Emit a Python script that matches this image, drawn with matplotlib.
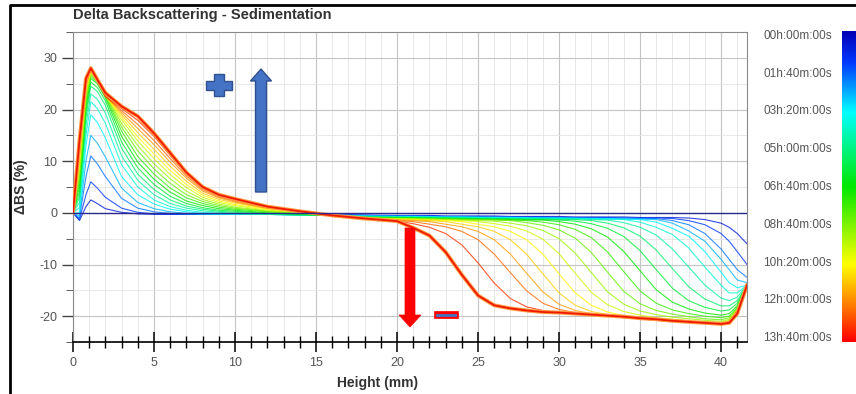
"""Delta backscattering (sedimentation) profiles, rainbow-coloured by scan time."""
import numpy as np
import matplotlib
matplotlib.use("Agg")
import matplotlib.pyplot as plt
from matplotlib.colors import LinearSegmentedColormap
from matplotlib.patches import FancyArrow, Polygon, Rectangle
from matplotlib.lines import Line2D
from matplotlib.ticker import MultipleLocator

W, H = 856, 394

# --------------------------------------------------------------------------- #
# DATA
# --------------------------------------------------------------------------- #
HEIGHT_LEFT = [0.0, 0.4, 0.8, 1.1, 1.5, 2.0, 3.0, 4.0, 5.0, 6.0, 7.0, 8.0, 9.0,
               10.0, 12.0, 14.0, 16.0]
HEIGHT_RIGHT = [18.0, 20.0, 21.0, 22.0, 23.0, 24.0, 25.0, 26.0, 27.0, 28.0, 29.0,
                30.0, 31.0, 32.0, 33.0, 34.0, 35.0, 36.0, 37.0, 38.0, 39.0, 40.0,
                40.5, 41.0, 41.6]

# delta-BS (%) per scan, oldest first: peak zone (bottom of the cell)
DBS_LEFT = [
    [0, 0, 0, 0, 0, 0, 0, 0, 0, 0, 0, 0, 0, 0, 0, 0, 0],
    [0, -1.5, 1.2, 2.5, 1.8, 0.8, 0.1, -0.2, -0.3, -0.3, -0.3, -0.3, -0.3, -0.3, -0.3, -0.3, -0.3],
    [0, -1.3, 3.5, 6, 4.8, 3, 0.9, 0.1, -0.2, -0.3, -0.3, -0.3, -0.3, -0.3, -0.3, -0.3, -0.4],
    [0, -1, 7, 11, 9.5, 7, 2.8, 0.9, 0.2, -0.1, -0.3, -0.3, -0.3, -0.3, -0.3, -0.4, -0.4],
    [0, -0.6, 10, 15, 13.5, 10.8, 4.8, 2, 0.8, 0.2, -0.1, -0.3, -0.3, -0.3, -0.3, -0.4, -0.4],
    [0, 0, 13, 19, 17.5, 14.5, 7, 3.5, 1.7, 0.7, 0.2, -0.1, -0.3, -0.3, -0.3, -0.4, -0.5],
    [0, 1, 15, 21.5, 20.2, 17.3, 9.3, 5, 2.5, 1.2, 0.5, 0.1, -0.1, -0.2, -0.3, -0.4, -0.5],
    [0, 2, 17, 23, 22, 19.3, 11, 6.3, 3.5, 1.8, 0.9, 0.4, 0.1, -0.1, -0.3, -0.4, -0.5],
    [0, 3, 18.5, 24.5, 23.5, 20.8, 12.5, 7.5, 4.5, 2.5, 1.3, 0.7, 0.3, 0.1, -0.2, -0.4, -0.5],
    [0, 4, 19.5, 25.3, 24.3, 21.7, 13.7, 8.7, 5.5, 3.2, 1.8, 1, 0.5, 0.3, -0.1, -0.3, -0.5],
    [0, 5, 20.5, 26, 25, 22.3, 14.8, 9.8, 6.5, 4, 2.3, 1.4, 0.8, 0.5, 0, -0.3, -0.5],
    [0, 6, 21.3, 26.4, 25.3, 22.6, 15.8, 10.9, 7.5, 4.8, 2.9, 1.8, 1.1, 0.7, 0.2, -0.2, -0.5],
    [0, 7, 22, 26.8, 25.6, 22.8, 16.6, 12, 8.5, 5.7, 3.5, 2.2, 1.4, 0.9, 0.3, -0.1, -0.5],
    [0, 8, 22.7, 27, 25.7, 22.9, 17.3, 13, 9.5, 6.6, 4.2, 2.6, 1.7, 1.1, 0.4, 0, -0.5],
    [0, 9, 23.3, 27.2, 25.8, 22.9, 18, 13.9, 10.5, 7.4, 4.9, 3, 2, 1.4, 0.5, 0.1, -0.5],
    [0, 10, 23.9, 27.4, 25.8, 22.9, 18.5, 14.7, 11.4, 8.2, 5.5, 3.4, 2.3, 1.6, 0.7, 0.1, -0.5],
    [0, 11, 24.4, 27.5, 25.8, 22.8, 19, 15.5, 12.3, 9, 6.1, 3.8, 2.6, 1.9, 0.8, 0.2, -0.5],
    [0, 11.8, 24.8, 27.6, 25.7, 22.7, 19.4, 16.3, 13.2, 9.8, 6.7, 4.2, 2.9, 2.1, 0.9, 0.2, -0.5],
    [0, 12.5, 25.2, 27.7, 25.6, 22.6, 19.8, 17.1, 14, 10.5, 7.1, 4.5, 3.1, 2.3, 1, 0.3, -0.5],
    [0, 13.3, 25.6, 27.8, 25.5, 22.5, 20.2, 17.9, 14.8, 11.1, 7.5, 4.8, 3.3, 2.5, 1.1, 0.3, -0.5],
    [0, 14, 26, 28, 25.8, 23.2, 20.6, 18.7, 15.4, 11.6, 7.8, 5, 3.5, 2.7, 1.2, 0.3, -0.5],
]

# delta-BS (%) per scan: clarification front (top of the cell)
DBS_RIGHT = [
    [0] * 25,
    [-0.4, -0.5, -0.5, -0.5, -0.6, -0.6, -0.6, -0.6, -0.7, -0.7, -0.7, -0.7, -0.8, -0.8, -0.8, -0.8, -0.9, -0.9, -0.9, -1.0, -1.3, -2.0, -2.8, -4.0, -6.0],
    [-0.5, -0.6, -0.6, -0.6, -0.7, -0.7, -0.7, -0.8, -0.8, -0.8, -0.8, -0.9, -0.9, -0.9, -0.9, -1.0, -1.0, -1.0, -1.1, -1.5, -2.3, -4.0, -5.5, -7.5, -10.0],
    [-0.5, -0.6, -0.6, -0.7, -0.7, -0.7, -0.8, -0.8, -0.8, -0.9, -0.9, -0.9, -1.0, -1.0, -1.0, -1.0, -1.1, -1.1, -1.5, -2.3, -4.0, -7.0, -9.0, -11.0, -12.5],
    [-0.6, -0.7, -0.7, -0.7, -0.8, -0.8, -0.8, -0.9, -0.9, -0.9, -1.0, -1.0, -1.0, -1.1, -1.1, -1.2, -1.2, -1.3, -2.0, -3.5, -5.5, -9.0, -11.0, -13.0, -13.5],
    [-0.6, -0.7, -0.7, -0.8, -0.8, -0.8, -0.9, -0.9, -0.9, -1.0, -1.0, -1.0, -1.1, -1.1, -1.2, -1.2, -1.3, -1.8, -3.0, -4.5, -7.5, -11.5, -13.5, -14.5, -14.0],
    [-0.7, -0.8, -0.8, -0.8, -0.9, -0.9, -0.9, -1.0, -1.0, -1.0, -1.1, -1.1, -1.1, -1.2, -1.2, -1.3, -1.8, -2.8, -4.2, -6.8, -10.5, -14.0, -15.5, -15.5, -14.0],
    [-0.7, -0.8, -0.8, -0.9, -0.9, -1.0, -1.0, -1.0, -1.1, -1.1, -1.1, -1.2, -1.2, -1.3, -1.4, -1.9, -2.8, -4.3, -7.0, -10.5, -14.0, -16.5, -17.0, -16.3, -14.0],
    [-0.8, -0.9, -0.9, -0.9, -1.0, -1.0, -1.1, -1.1, -1.1, -1.2, -1.2, -1.3, -1.3, -1.5, -2.0, -2.9, -4.5, -7.2, -10.8, -14.3, -16.7, -18.0, -18.0, -17.0, -14.0],
    [-0.8, -0.9, -1.0, -1.0, -1.0, -1.1, -1.1, -1.2, -1.2, -1.3, -1.3, -1.4, -1.6, -2.1, -3.0, -4.6, -7.3, -11.0, -14.6, -17.0, -18.3, -19.0, -18.8, -17.5, -14.0],
    [-0.9, -1.0, -1.0, -1.1, -1.1, -1.2, -1.2, -1.3, -1.3, -1.4, -1.4, -1.7, -2.2, -3.1, -4.7, -7.5, -11.2, -14.9, -17.3, -18.6, -19.4, -19.8, -19.5, -18.0, -14.0],
    [-0.9, -1.0, -1.1, -1.1, -1.2, -1.2, -1.3, -1.3, -1.4, -1.5, -1.8, -2.3, -3.2, -4.8, -7.6, -11.4, -15.1, -17.5, -18.8, -19.5, -20.0, -20.3, -20.0, -18.3, -14.0],
    [-1.0, -1.1, -1.1, -1.2, -1.2, -1.3, -1.3, -1.4, -1.5, -1.9, -2.4, -3.3, -4.9, -7.7, -11.5, -15.2, -17.6, -18.9, -19.6, -20.1, -20.5, -20.7, -20.3, -18.5, -14.0],
    [-1.0, -1.1, -1.2, -1.2, -1.3, -1.4, -1.5, -1.6, -2.0, -2.5, -3.4, -5.0, -7.8, -11.6, -15.3, -17.7, -19.0, -19.7, -20.2, -20.5, -20.8, -21.0, -20.6, -18.7, -14.0],
    [-1.0, -1.2, -1.2, -1.3, -1.4, -1.5, -1.7, -2.1, -2.6, -3.5, -5.1, -7.9, -11.7, -15.4, -17.8, -19.1, -19.8, -20.3, -20.6, -20.9, -21.1, -21.2, -20.8, -18.8, -14.0],
    [-1.1, -1.2, -1.3, -1.4, -1.5, -1.7, -2.2, -2.7, -3.6, -5.2, -8.0, -11.8, -15.5, -17.9, -19.2, -19.9, -20.4, -20.7, -21.0, -21.2, -21.3, -21.4, -21.0, -18.9, -14.0],
    [-1.1, -1.3, -1.4, -1.5, -1.7, -2.2, -2.7, -3.6, -5.2, -8.0, -11.8, -15.5, -17.9, -19.1, -19.7, -20.1, -20.5, -20.8, -21.0, -21.2, -21.4, -21.5, -21.0, -19.0, -14.0],
    [-1.1, -1.4, -1.5, -1.7, -2.2, -2.7, -3.6, -5.2, -8.0, -11.7, -15.3, -17.7, -18.9, -19.5, -19.9, -20.2, -20.5, -20.8, -21.0, -21.2, -21.4, -21.5, -21.1, -19.0, -14.0],
    [-1.1, -1.5, -1.7, -2.2, -2.7, -3.6, -5.2, -8.0, -11.6, -15.1, -17.5, -18.7, -19.3, -19.7, -20.0, -20.3, -20.5, -20.8, -21.0, -21.2, -21.4, -21.6, -21.2, -19.0, -14.0],
    [-1.1, -1.6, -2.1, -2.8, -4.0, -6.2, -9.7, -13.6, -16.6, -18.2, -18.9, -19.3, -19.6, -19.8, -20.0, -20.3, -20.5, -20.8, -21.0, -21.2, -21.4, -21.6, -21.3, -19.0, -14.0],
    [-1.1, -1.6, -2.9, -4.4, -7.6, -12.0, -16.0, -17.9, -18.5, -18.9, -19.2, -19.3, -19.5, -19.7, -19.9, -20.1, -20.4, -20.6, -20.9, -21.1, -21.3, -21.5, -21.3, -19.5, -14.0],
]

CBAR_LABELS = ["00h:00m:00s", "01h:40m:00s", "03h:20m:00s", "05h:00m:00s",
               "06h:40m:00s", "08h:40m:00s", "10h:20m:00s", "12h:00m:00s",
               "13h:40m:00s"]

TIME_CMAP = LinearSegmentedColormap.from_list(
    "scan_time",
    [(0.0, "#0000b4"), (0.1, "#0038ff"), (0.26, "#00ffff"), (0.5, "#00e800"),
     (0.75, "#ffff00"), (0.88, "#ff8000"), (1.0, "#ff0000")])

INK, TICK_GREY = "#333333", "#555555"


def px(x, y):
    """pixel position in the 856x394 canvas -> figure fraction"""
    return x / W, 1 - y / H


def main():
    plt.rcParams.update({"font.family": ["Liberation Sans", "DejaVu Sans"],
                         "axes.unicode_minus": False})
    fig = plt.figure(figsize=(W / 100, H / 100), dpi=100)
    ax = fig.add_axes([73 / W, 1 - 342 / H, (747 - 73) / W, (342 - 32) / H])

    height = np.array(HEIGHT_LEFT + HEIGHT_RIGHT)
    n = len(DBS_LEFT)
    for i in range(1, n):
        dbs = np.array(DBS_LEFT[i] + DBS_RIGHT[i])
        c = TIME_CMAP(i / (n - 1))
        if i == n - 1:
            ax.plot(height, dbs, color="#ff9a40", lw=2.8, zorder=3,
                    solid_joinstyle="round")
            ax.plot(height, dbs, color="#f01800", lw=1.3, zorder=4,
                    solid_joinstyle="round")
        else:
            ax.plot(height, dbs, color=c, lw=0.8, alpha=0.8, zorder=2,
                    solid_joinstyle="round")
    ax.plot(height, np.array(DBS_LEFT[0] + DBS_RIGHT[0]), color="#2a2a90",
            lw=1.0, zorder=5)

    ax.set_xlim(0, 41.6)
    ax.set_ylim(-25, 35)
    ax.xaxis.set_major_locator(MultipleLocator(5))
    ax.xaxis.set_minor_locator(MultipleLocator(1))
    ax.yaxis.set_major_locator(MultipleLocator(10))
    ax.yaxis.set_minor_locator(MultipleLocator(5))
    ax.grid(which="major", color="#c4c4c4", lw=0.8, zorder=0)
    ax.grid(which="minor", color="#e4e4e4", lw=0.6, zorder=0)
    ax.set_axisbelow(True)
    ax.tick_params(axis="x", which="major", direction="inout", length=15,
                   width=1.1, color="black", labelsize=9, labelcolor=TICK_GREY,
                   pad=3)
    ax.tick_params(axis="x", which="minor", direction="inout", length=9,
                   width=1.0, color="black")
    ax.tick_params(axis="y", which="major", direction="out", length=8,
                   width=1.0, color="#444444", labelsize=9, labelcolor=TICK_GREY)
    ax.tick_params(axis="y", which="minor", direction="out", length=5,
                   color="#444444")
    for s in ("top", "left", "right"):
        ax.spines[s].set_color("#8a8a8a")
    ax.spines["bottom"].set_color("black")
    ax.spines["bottom"].set_linewidth(1.2)

    ax.set_ylabel("ΔBS (%)", fontsize=10, fontweight="bold", color=INK,
                  labelpad=8)
    fig.text(*px(378, 383), "Height (mm)", fontsize=10, fontweight="bold",
             color=INK, ha="center", va="center")
    fig.text(*px(73, 15), "Delta Backscattering - Sedimentation", fontsize=10.5,
             fontweight="bold", color=INK, ha="left", va="center")

    # colour bar (time scale) with evenly spaced labels on its left
    cax = fig.add_axes([842 / W, 1 - 342 / H, 16 / W, 311 / H])
    cax.imshow(np.linspace(0, 1, 256)[:, None], aspect="auto", cmap=TIME_CMAP,
               origin="upper")
    cax.axis("off")
    for lab, y in zip(CBAR_LABELS, np.linspace(36, 338, len(CBAR_LABELS))):
        fig.text(*px(832, y), lab, fontsize=8.5, color=TICK_GREY,
                 ha="right", va="center")

    # hand-drawn style annotations
    fig.patches.append(FancyArrow(*px(261, 192), 0, (192 - 69) / H,
                                  width=11 / W, head_width=21 / W,
                                  head_length=12 / H, length_includes_head=True,
                                  transform=fig.transFigure, fc="#4472c4",
                                  ec="#2f528f", lw=1.0))
    cx, cy, a, b, t = 219, 85, 13, 11, 4.5
    plus = [(cx - t, cy - b), (cx + t, cy - b), (cx + t, cy - t), (cx + a, cy - t),
            (cx + a, cy + t), (cx + t, cy + t), (cx + t, cy + b), (cx - t, cy + b),
            (cx - t, cy + t), (cx - a, cy + t), (cx - a, cy - t), (cx - t, cy - t)]
    fig.patches.append(Polygon([px(x, y) for x, y in plus], closed=True,
                               transform=fig.transFigure, fc="#4472c4",
                               ec="#2f528f", lw=1.0))
    fig.patches.append(FancyArrow(*px(410, 228), 0, -(327 - 228) / H,
                                  width=10 / W, head_width=22 / W,
                                  head_length=12 / H, length_includes_head=True,
                                  transform=fig.transFigure, fc="#ff0000",
                                  ec="#ff0000", lw=0.5))
    fig.patches.append(Rectangle(px(434, 318), 24 / W, 7 / H,
                                 transform=fig.transFigure, fc="#ff0000",
                                 ec="#ff0000", lw=0.5))
    fig.lines.append(Line2D([437 / W, 455 / W], [1 - 314.5 / H] * 2,
                            transform=fig.transFigure, color="#4472c4", lw=2))

    # outer frame of the screenshot
    fig.lines.append(Line2D([10 / W, 10 / W, 1.05], [-0.05, 1 - 5 / H, 1 - 5 / H],
                            transform=fig.transFigure, color="black", lw=2))

    fig.savefig("out.png", dpi=100)


if __name__ == "__main__":
    main()
